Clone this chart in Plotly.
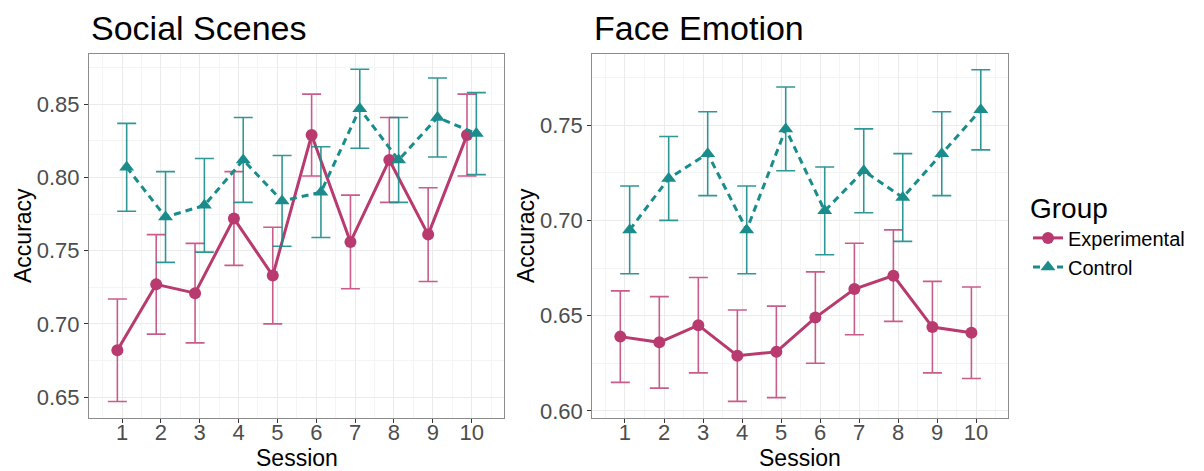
import plotly.graph_objects as go

sessions = [1, 2, 3, 4, 5, 6, 7, 8, 9, 10]
session_labels = ["1", "2", "3", "4", "5", "6", "7", "8", "9", "10"]

# Social Scenes
ss_exp = [0.682, 0.727, 0.721, 0.772, 0.733, 0.829, 0.756, 0.812, 0.761, 0.829]
ss_exp_err = [0.035, 0.034, 0.034, 0.032, 0.033, 0.028, 0.032, 0.029, 0.032, 0.028]
ss_ctl = [0.807, 0.773, 0.781, 0.812, 0.784, 0.790, 0.847, 0.812, 0.841, 0.830]
ss_ctl_err = [0.030, 0.031, 0.032, 0.029, 0.031, 0.031, 0.027, 0.029, 0.027, 0.028]

# Face Emotion
fe_exp = [0.639, 0.636, 0.645, 0.629, 0.631, 0.649, 0.664, 0.671, 0.644, 0.641]
fe_exp_err = [0.024, 0.024, 0.025, 0.024, 0.024, 0.024, 0.024, 0.024, 0.024, 0.024]
fe_ctl = [0.695, 0.722, 0.735, 0.695, 0.748, 0.705, 0.726, 0.712, 0.735, 0.758]
fe_ctl_err = [0.023, 0.022, 0.022, 0.023, 0.022, 0.023, 0.022, 0.023, 0.022, 0.021]

titles = ["Social Scenes", "Face Emotion"]
groups = ["Experimental", "Control"]

EXP_COL = "#B83A6E"
EXP_ERR = "rgba(192,64,118,0.85)"
CTL_COL = "#1A8C8C"
CTL_ERR = "rgba(26,140,140,0.9)"
FONT = "Liberation Sans, Arial, sans-serif"
DODGE = 0.12

W, H = 1204, 471
OFF = 8  # default page body margin


def px(x):
    return (x - OFF) / W


def py(y):
    return 1 - (y - OFF) / H


fig = go.Figure()

panels = [
    dict(exp=ss_exp, exp_err=ss_exp_err, ctl=ss_ctl, ctl_err=ss_ctl_err,
         xa="x", ya="y", xdom=(89, 504.3), xr=[0.15, 10.84], yr=[0.6357, 0.8844],
         yt=[0.65, 0.70, 0.75, 0.80, 0.85], showleg=True),
    dict(exp=fe_exp, exp_err=fe_exp_err, ctl=fe_ctl, ctl_err=fe_ctl_err,
         xa="x2", ya="y2", xdom=(592.3, 1007.7), xr=[0.162, 10.81], yr=[0.5963, 0.7873],
         yt=[0.60, 0.65, 0.70, 0.75], showleg=False),
]

for p in panels:
    xe = [s - DODGE for s in sessions]
    xc = [s + DODGE for s in sessions]
    fig.add_trace(go.Scatter(
        x=xe, y=p["exp"], mode="lines+markers", name=groups[0],
        xaxis=p["xa"], yaxis=p["ya"], showlegend=p["showleg"], legendgroup="e",
        line=dict(color=EXP_COL, width=3),
        marker=dict(symbol="circle", size=12, color=EXP_COL),
        error_y=dict(type="data", array=p["exp_err"], visible=True,
                     color=EXP_ERR, thickness=1.6, width=9.5),
    ))
    fig.add_trace(go.Scatter(
        x=xc, y=p["ctl"], mode="lines+markers", name=groups[1],
        xaxis=p["xa"], yaxis=p["ya"], showlegend=p["showleg"], legendgroup="c",
        line=dict(color=CTL_COL, width=3, dash="7px,5px"),
        marker=dict(symbol="triangle-up", size=13, color=CTL_COL),
        error_y=dict(type="data", array=p["ctl_err"], visible=True,
                     color=CTL_ERR, thickness=1.6, width=9.5),
    ))

ytop = py(54)
ybot = py(418)
axis_common = dict(
    showline=True, linecolor="#8C8C8C", linewidth=1.2, mirror=True,
    showgrid=True, gridcolor="#EBEBEB", gridwidth=1.2,
    ticks="outside", ticklen=4, tickcolor="#333333", tickwidth=1,
    tickfont=dict(family=FONT, size=22, color="#4D4D4D"),
    zeroline=False, automargin=False,
)
for i, p in enumerate(panels):
    sfx = "" if i == 0 else "2"
    fig.layout["xaxis" + sfx] = dict(
        axis_common, domain=[px(p["xdom"][0]), px(p["xdom"][1])], range=p["xr"],
        tickmode="array", tickvals=sessions, ticktext=session_labels,
        anchor="y" + sfx, ticklabelstandoff=-10,
        minor=dict(showgrid=True, gridcolor="#F4F4F4", gridwidth=1,
                   tickmode="array", tickvals=[s + 0.5 for s in [0] + sessions]),
    )
    fig.layout["yaxis" + sfx] = dict(
        axis_common, domain=[ybot, ytop], range=p["yr"],
        tickmode="array", tickvals=p["yt"], ticktext=["%.2f" % v for v in p["yt"]],
        anchor="x" + sfx,
        minor=dict(showgrid=True, gridcolor="#F4F4F4", gridwidth=1,
                   tickmode="array",
                   tickvals=[round(v - 0.025, 3) for v in p["yt"]] + [round(p["yt"][-1] + 0.025, 3)]),
    )

annotations = []
title_x = [89, 592]
acc_x = [23, 526]
for i, p in enumerate(panels):
    annotations.append(dict(text=titles[i], x=px(title_x[i]), y=py(28), xref="paper", yref="paper",
                            xanchor="left", yanchor="middle", showarrow=False,
                            font=dict(family=FONT, size=34, color="black")))
    annotations.append(dict(text="Accuracy", x=px(acc_x[i]), y=py(236), xref="paper", yref="paper",
                            xanchor="center", yanchor="middle", showarrow=False, textangle=-90,
                            font=dict(family=FONT, size=23, color="black")))
    cx = (p["xdom"][0] + p["xdom"][1]) / 2
    annotations.append(dict(text="Session", x=px(cx), y=py(458), xref="paper", yref="paper",
                            xanchor="center", yanchor="middle", showarrow=False,
                            font=dict(family=FONT, size=23, color="black")))

fig.update_layout(
    width=W, height=H, margin=dict(l=0, r=0, t=0, b=0),
    plot_bgcolor="white", paper_bgcolor="white",
    annotations=annotations,
    legend=dict(
        title=dict(text="Group", font=dict(family=FONT, size=28, color="black")),
        font=dict(family=FONT, size=20, color="black"),
        x=px(1028), y=py(182), xanchor="left", yanchor="top",
        bgcolor="rgba(0,0,0,0)", tracegroupgap=0, itemwidth=30,
    ),
)

fig.write_html("out.html")
